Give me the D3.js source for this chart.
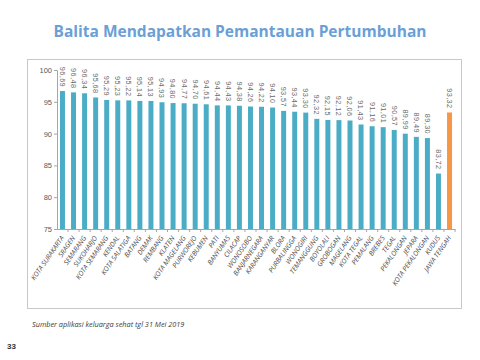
<!DOCTYPE html>
<html><head><meta charset="utf-8">
<script src="https://cdnjs.cloudflare.com/ajax/libs/d3/7.8.5/d3.min.js"></script>
<style>
body{margin:0;background:#fff;}
svg{display:block;}
</style></head>
<body>
<svg id="c" width="480" height="360"></svg>
<script>
const categories = ["KOTA SURAKARTA","SRAGEN","SEMARANG","SUKOHARJO","KOTA SEMARANG","KENDAL","KOTA SALATIGA","BATANG","DEMAK","REMBANG","KLATEN","KOTA MAGELANG","PURWOREJO","KEBUMEN","PATI","BANYUMAS","CILACAP","WONOSOBO","BANJARNEGARA","KARANGANYAR","BLORA","PURBALINGGA","WONOGIRI","TEMANGGUNG","BOYOLALI","GROBOGAN","MAGELANG","KOTA TEGAL","PEMALANG","BREBES","TEGAL","PEKALONGAN","JEPARA","KOTA PEKALONGAN","KUDUS","JAWA TENGAH"];
const values = [96.69,96.48,96.34,95.68,95.29,95.23,95.22,95.14,95.13,94.93,94.80,94.77,94.70,94.61,94.44,94.43,94.38,94.26,94.22,94.10,93.57,93.44,93.30,92.32,92.15,92.12,92.06,91.43,91.16,91.01,90.57,89.99,89.49,89.30,83.72,93.32];
const highlight = ["JAWA TENGAH"];
const yTicks = [75,80,85,90,95,100];
const title = "Balita Mendapatkan Pemantauan Pertumbuhan";
const source = "Sumber aplikasi keluarga sehat tgl 31 Mei 2019";
const pageNo = "33";

const svg = d3.select("#c");
const fmt = v => v.toFixed(2).replace(".", ",");

// title
svg.append("text").attr("x",240).attr("y",37).attr("text-anchor","middle")
  .attr("font-family","Open Sans, sans-serif").attr("font-weight","bold")
  .attr("font-size",15.5).attr("fill","#6b9fd6").text(title);

// frame
svg.append("rect").attr("x",27.5).attr("y",59.5).attr("width",434).attr("height",249)
  .attr("fill","none").attr("stroke","#c8c8c8").attr("stroke-width",1);

const x = d3.scaleBand().domain(categories).range([57,455]).paddingInner(0.55).paddingOuter(0.27);
const y = d3.scaleLinear().domain([75,100]).range([229,70]);

// y axis
const ya = svg.append("g").attr("transform","translate(57,0)")
  .call(d3.axisLeft(y).tickValues(yTicks).tickSize(3).tickPadding(2));
ya.select(".domain").attr("stroke","#a6a6a6");
ya.selectAll(".tick line").attr("stroke","#a6a6a6");
ya.selectAll("text").attr("font-family","Liberation Sans Narrow, Liberation Sans, sans-serif")
  .attr("font-size",7.5).attr("fill","#595959");

// x axis
const xa = svg.append("g").attr("transform","translate(0,229)")
  .call(d3.axisBottom(x).tickSize(0).tickFormat(""));
xa.select(".domain").attr("stroke","#a6a6a6");
const step = x.step();
svg.append("g").selectAll("line").data(categories).join("line")
  .attr("x1",d=>x(d)+x.bandwidth()/2+step/2).attr("x2",d=>x(d)+x.bandwidth()/2+step/2)
  .attr("y1",229).attr("y2",232).attr("stroke","#a6a6a6");

// bars
svg.append("g").selectAll("rect").data(categories).join("rect")
  .attr("x",d=>x(d)).attr("width",x.bandwidth())
  .attr("y",(d,i)=>y(values[i])).attr("height",(d,i)=>y(75)-y(values[i]))
  .attr("fill",d=>highlight.includes(d)?"#f79646":"#4bacc6");

// value labels
svg.append("g").selectAll("text").data(categories).join("text")
  .attr("transform",(d,i)=>`translate(${x(d)+x.bandwidth()/2-2.6},${y(values[i])-4}) rotate(90)`)
  .attr("text-anchor","end")
  .attr("font-family","Liberation Sans, sans-serif").attr("font-size",7.3)
  .attr("letter-spacing",0.4).attr("fill","#6a6a6a")
  .text((d,i)=>fmt(values[i]));

// category labels
svg.append("g").selectAll("text").data(categories).join("text")
  .attr("transform",d=>`translate(${x(d)+x.bandwidth()/2+2},${238}) rotate(-55)`)
  .attr("text-anchor","end")
  .attr("font-family","Open Sans, sans-serif").attr("font-style","italic")
  .attr("font-size",6.8).attr("fill","#4a4a4a")
  .text(d=>d);

// source
svg.append("text").attr("x",32).attr("y",327)
  .attr("font-family","Open Sans, sans-serif").attr("font-style","italic")
  .attr("font-size",7.3).attr("fill","#404040").text(source);

svg.append("text").attr("x",7).attr("y",349)
  .attr("font-family","Liberation Sans, sans-serif").attr("font-weight","bold")
  .attr("font-size",8).attr("fill","#333").text(pageNo);
</script>
</body></html>
